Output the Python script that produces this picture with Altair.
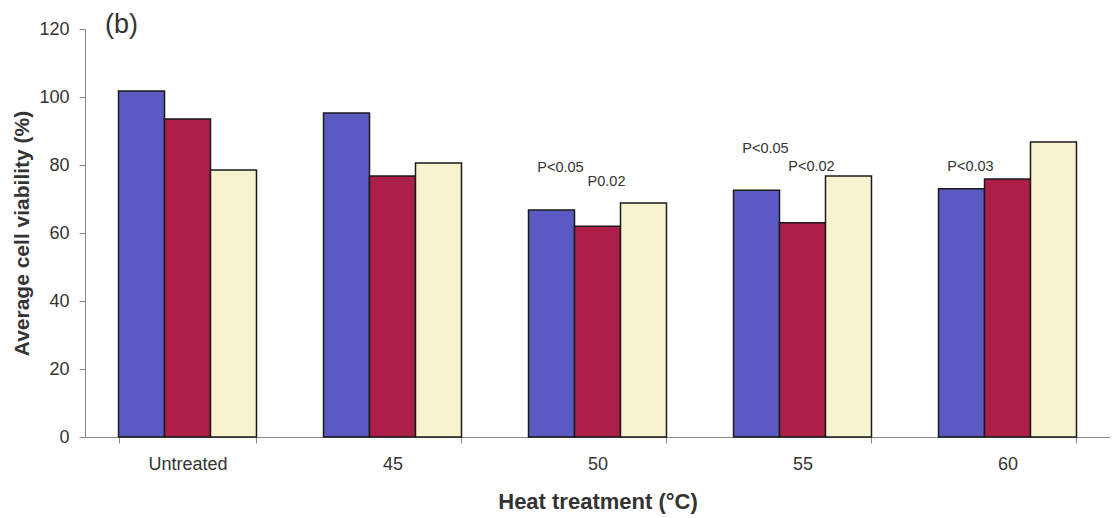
import altair as alt
import pandas as pd

categories = ["Untreated", "45", "50", "55", "60"]
series = ["A", "B", "C"]
values_a = [101.8, 95.3, 66.8, 72.6, 73.0]
values_b = [93.5, 76.8, 62.0, 63.0, 75.9]
values_c = [78.5, 80.6, 68.8, 76.8, 86.8]
colors = ["#5a5ac2", "#ac1f48", "#f7f3cf"]

ann_cat = ["50", "50", "55", "55", "60"]
ann_series = ["A", "B", "A", "B", "A"]
ann_text = ["P<0.05", "P0.02", "P<0.05", "P<0.02", "P<0.03"]
ann_y = [79.0, 75.0, 84.7, 79.4, 79.4]

rows = []
for i, c in enumerate(categories):
    for s, vals in zip(series, [values_a, values_b, values_c]):
        rows.append({"cat": c, "series": s, "value": vals[i]})
df = pd.DataFrame(rows)
ann = pd.DataFrame({"cat": ann_cat, "series": ann_series, "label": ann_text, "y": ann_y})

FONT = "Liberation Sans"

xscale = alt.Scale(domain=categories, paddingInner=0.327, paddingOuter=0.1635)
yscale = alt.Scale(domain=[0, 120])
oscale = alt.Scale(domain=series, paddingInner=0, paddingOuter=0)

bars = alt.Chart(df).mark_bar(stroke="#1a1a1a", strokeWidth=1.5).encode(
    x=alt.X("cat:N", scale=xscale, sort=categories,
            axis=alt.Axis(title="Heat treatment (°C)", labelAngle=0, tickBand="extent",
                          labelFontSize=18, labelColor="#333333", labelFont=FONT,
                          labelPadding=12, tickSize=6, tickColor="#888888",
                          domainColor="#888888", titleFont=FONT, titleFontSize=22,
                          titleFontWeight="bold", titleColor="#333333", titlePadding=18)),
    xOffset=alt.XOffset("series:N", scale=oscale),
    y=alt.Y("value:Q", scale=yscale,
            axis=alt.Axis(title="Average cell viability (%)", values=[0, 20, 40, 60, 80, 100, 120],
                          grid=False, labelFontSize=18, labelColor="#333333", labelFont=FONT,
                          labelPadding=10, tickSize=6, tickColor="#888888", domainColor="#888888",
                          titleFont=FONT, titleFontSize=21, titleFontWeight="bold",
                          titleColor="#333333", titlePadding=6)),
    color=alt.Color("series:N", scale=alt.Scale(domain=series, range=colors), legend=None),
)

texts = alt.Chart(ann).mark_text(font=FONT, fontSize=14.5, color="#333333", baseline="middle", dx=9).encode(
    x=alt.X("cat:N", scale=xscale, sort=categories),
    xOffset=alt.XOffset("series:N", scale=oscale),
    y=alt.Y("y:Q", scale=yscale),
    text="label:N",
)

panel = alt.Chart(pd.DataFrame({"t": ["(b)"]})).mark_text(
    font=FONT, fontSize=27, color="#333333", align="left", baseline="middle"
).encode(x=alt.value(20), y=alt.value(-4), text="t:N")

chart = alt.layer(bars, texts, panel).properties(
    width=1025, height=408,
    autosize=alt.AutoSizeParams(type="none"),
    padding={"left": 85, "top": 29, "right": 4, "bottom": 81},
    background="white",
).configure_view(strokeWidth=0, stroke="transparent")

chart.save("out.html", embed_options={"renderer": "svg", "actions": False})
